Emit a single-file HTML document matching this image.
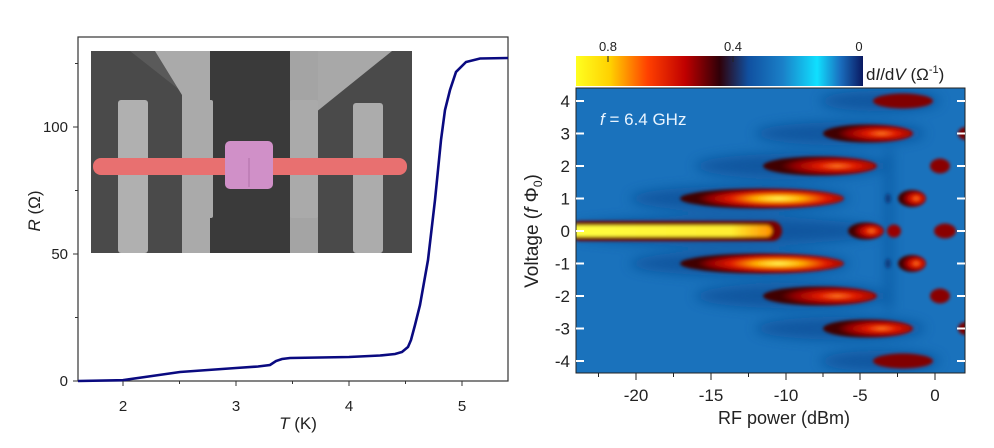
<!DOCTYPE html>
<html><head><meta charset="utf-8"><style>
body{margin:0;background:#fff;}
svg{display:block;font-family:"Liberation Sans",sans-serif;}
</style></head><body>
<svg width="994" height="448" viewBox="0 0 994 448" xmlns="http://www.w3.org/2000/svg">
<defs>
<filter id="b2" x="-50%" y="-50%" width="200%" height="200%"><feGaussianBlur stdDeviation="1.6"/></filter>
<filter id="b6" x="-50%" y="-100%" width="200%" height="300%"><feGaussianBlur stdDeviation="6"/></filter>
<linearGradient id="cb" x1="0" x2="1">
<stop offset="0" stop-color="#ffff20"/><stop offset="0.12" stop-color="#ffd000"/><stop offset="0.25" stop-color="#ff4000"/><stop offset="0.38" stop-color="#c00000"/><stop offset="0.5" stop-color="#300008"/><stop offset="0.6" stop-color="#1050a0"/><stop offset="0.72" stop-color="#1a80c8"/><stop offset="0.84" stop-color="#10e0ff"/><stop offset="0.92" stop-color="#1a70c0"/><stop offset="1" stop-color="#0a1860"/>
</linearGradient>
<radialGradient id="hot" cx="0.6" cy="0.5" r="0.5">
<stop offset="0" stop-color="#ffff60"/><stop offset="0.3" stop-color="#ffb000"/><stop offset="0.6" stop-color="#e01800"/><stop offset="0.85" stop-color="#900000"/><stop offset="1" stop-color="#400000"/>
</radialGradient>
<radialGradient id="warm" cx="0.65" cy="0.5" r="0.5">
<stop offset="0" stop-color="#ff8020"/><stop offset="0.35" stop-color="#e01800"/><stop offset="0.75" stop-color="#900000"/><stop offset="1" stop-color="#400000"/>
</radialGradient>
<linearGradient id="zero" x1="0" x2="1">
<stop offset="0" stop-color="#ffff40"/><stop offset="0.8" stop-color="#ffee30"/><stop offset="1" stop-color="#ff9000"/>
</linearGradient>
<clipPath id="hm"><rect x="576" y="88" width="389" height="285"/></clipPath>
</defs>

<rect x="78" y="37" width="430" height="344" fill="#fff" stroke="#333" stroke-width="1.2"/>
<g>
<rect x="91" y="51" width="321" height="202" fill="#4a4a4a"/>
<polygon points="130,51 222,51 222,253 205,253 205,110" fill="#5a5a5a"/>
<polygon points="155,51 222,51 222,253 182,253 182,95" fill="#aaa"/>
<polygon points="300,51 392,51 300,125" fill="#a8a8a8"/>
<rect x="288" y="51" width="30" height="202" fill="#a4a4a4"/>
<rect x="210" y="51" width="80" height="202" fill="#3a3a3a"/>
<rect x="118" y="100" width="30" height="153" rx="3" fill="#b0b0b0"/>
<rect x="353" y="103" width="30" height="150" rx="3" fill="#acacac"/>
<rect x="185" y="100" width="28" height="118" rx="2" fill="#aaa"/>
<rect x="290" y="100" width="28" height="118" rx="2" fill="#aaa"/>
<rect x="93" y="158" width="314" height="17" rx="8" fill="#e87070"/>
<rect x="225" y="141" width="48" height="48" rx="5" fill="#d090c8"/>
<line x1="249" y1="158" x2="249" y2="187" stroke="#b070a8" stroke-width="1"/>
</g>
<path d="M78,381 L123,380.2 L152,376 L180,372 L208,370 L236,368 L258,366.5 L270,365 L276,361 L282,359 L290,358 L320,357.5 L349,357 L380,355.5 L395,354 L402,352 L408,347 L411,340 L415,325 L420,305 L428,260 L435,200 L441,140 L445,110 L450,90 L456,72 L466,62 L480,58.5 L508,58" fill="none" stroke="#0a0a80" stroke-width="2.6"/>
<g stroke="#333" stroke-width="1">
<line x1="73" y1="381" x2="78" y2="381"/><line x1="73" y1="254" x2="78" y2="254"/><line x1="73" y1="127" x2="78" y2="127"/>
<line x1="75" y1="317.5" x2="78" y2="317.5"/><line x1="75" y1="190.5" x2="78" y2="190.5"/><line x1="75" y1="63.5" x2="78" y2="63.5"/>
<line x1="123" y1="381" x2="123" y2="386"/><line x1="236" y1="381" x2="236" y2="386"/><line x1="349" y1="381" x2="349" y2="386"/><line x1="462" y1="381" x2="462" y2="386"/>
<line x1="179.5" y1="381" x2="179.5" y2="384"/><line x1="292.5" y1="381" x2="292.5" y2="384"/><line x1="405.5" y1="381" x2="405.5" y2="384"/>
</g>
<g font-size="15" fill="#222" text-anchor="end">
<text x="68" y="386">0</text><text x="68" y="259">50</text><text x="68" y="132">100</text>
</g>
<g font-size="15" fill="#222" text-anchor="middle">
<text x="123" y="411">2</text><text x="236" y="411">3</text><text x="349" y="411">4</text><text x="462" y="411">5</text>
<text x="298" y="429" font-size="17"><tspan font-style="italic">T</tspan> (K)</text>
</g>
<text transform="translate(40,211) rotate(-90)" font-size="17" fill="#222" text-anchor="middle"><tspan font-style="italic">R</tspan> (Ω)</text>

<rect x="576" y="56" width="287" height="30" fill="url(#cb)"/>
<g font-size="13" fill="#222" text-anchor="middle">
<text x="608" y="51">0.8</text><text x="733" y="51">0.4</text><text x="859" y="51">0</text>
</g>
<line x1="608" y1="56" x2="608" y2="62" stroke="#222"/><line x1="733" y1="56" x2="733" y2="62" stroke="#222"/>
<text x="866" y="80" font-size="17" fill="#222">d<tspan font-style="italic">I</tspan>/d<tspan font-style="italic">V</tspan> (Ω<tspan font-size="11" dy="-7">-1</tspan><tspan dy="7">)</tspan></text>

<rect x="576" y="88" width="389" height="285" fill="#1a72bc"/>
<g clip-path="url(#hm)">
<g filter="url(#b6)" fill="#0f4f98" opacity="0.8">
<ellipse cx="720" cy="231" rx="160" ry="14"/>
<ellipse cx="740" cy="198.5" rx="110" ry="12"/><ellipse cx="740" cy="263.5" rx="110" ry="12"/>
<ellipse cx="790" cy="166" rx="95" ry="12"/><ellipse cx="790" cy="296" rx="95" ry="12"/>
<ellipse cx="840" cy="133.5" rx="85" ry="11"/><ellipse cx="840" cy="328.5" rx="85" ry="11"/>
<ellipse cx="880" cy="101" rx="60" ry="10"/><ellipse cx="880" cy="361" rx="60" ry="10"/>
<rect x="886" y="150" width="6" height="160"/>
</g>
<g filter="url(#b2)">
<rect x="570" y="221" width="212" height="20" rx="10" fill="#7a0000"/>
<rect x="570" y="225.5" width="202" height="11" rx="5.5" fill="url(#zero)"/>
<ellipse cx="866" cy="231" rx="18" ry="8.5" fill="url(#warm)"/>
<ellipse cx="894" cy="231" rx="7" ry="6.5" fill="#9a0000"/>
<ellipse cx="945" cy="231" rx="11" ry="7.5" fill="#8a0000"/>
<ellipse cx="762" cy="198.5" rx="82" ry="10" fill="url(#hot)"/>
<ellipse cx="762" cy="263.5" rx="82" ry="10" fill="url(#hot)"/>
<ellipse cx="912" cy="198.5" rx="14" ry="8.5" fill="url(#warm)"/>
<ellipse cx="912" cy="263.5" rx="14" ry="8.5" fill="url(#warm)"/>
<ellipse cx="888" cy="198.5" rx="3" ry="5" fill="#0c3e80"/><ellipse cx="888" cy="263.5" rx="3" ry="5" fill="#0c3e80"/>
<ellipse cx="820" cy="166" rx="57" ry="9.5" fill="url(#warm)"/>
<ellipse cx="820" cy="296" rx="57" ry="9.5" fill="url(#warm)"/>
<ellipse cx="940" cy="166" rx="10" ry="7.5" fill="#8a0000"/>
<ellipse cx="940" cy="296" rx="10" ry="7.5" fill="#8a0000"/>
<ellipse cx="868" cy="133.5" rx="45" ry="9" fill="url(#warm)"/>
<ellipse cx="868" cy="328.5" rx="45" ry="9" fill="url(#warm)"/>
<ellipse cx="966" cy="133.5" rx="8" ry="6.5" fill="#7a0000"/>
<ellipse cx="966" cy="328.5" rx="8" ry="6.5" fill="#7a0000"/>
<ellipse cx="903" cy="101" rx="30" ry="7.5" fill="#800000"/>
<ellipse cx="903" cy="361" rx="30" ry="7.5" fill="#800000"/>
</g>
</g>
<rect x="576" y="88" width="389" height="285" fill="none" stroke="#222" stroke-width="1"/>
<text x="600" y="125" font-size="17" fill="#e8f4ff"><tspan font-style="italic">f</tspan> = 6.4 GHz</text>
<g stroke="#fff" stroke-width="2">
<line x1="576" y1="101" x2="584" y2="101"/><line x1="576" y1="133.5" x2="584" y2="133.5"/><line x1="576" y1="166" x2="584" y2="166"/><line x1="576" y1="198.5" x2="584" y2="198.5"/><line x1="576" y1="231" x2="584" y2="231"/><line x1="576" y1="263.5" x2="584" y2="263.5"/><line x1="576" y1="296" x2="584" y2="296"/><line x1="576" y1="328.5" x2="584" y2="328.5"/><line x1="576" y1="361" x2="584" y2="361"/>
<line x1="957" y1="101" x2="965" y2="101"/><line x1="957" y1="133.5" x2="965" y2="133.5"/><line x1="957" y1="166" x2="965" y2="166"/><line x1="957" y1="198.5" x2="965" y2="198.5"/><line x1="957" y1="231" x2="965" y2="231"/><line x1="957" y1="263.5" x2="965" y2="263.5"/><line x1="957" y1="296" x2="965" y2="296"/><line x1="957" y1="328.5" x2="965" y2="328.5"/><line x1="957" y1="361" x2="965" y2="361"/>
</g>
<g stroke="#222" stroke-width="1">
<line x1="636" y1="373" x2="636" y2="380"/><line x1="711" y1="373" x2="711" y2="380"/><line x1="786" y1="373" x2="786" y2="380"/><line x1="860" y1="373" x2="860" y2="380"/><line x1="935" y1="373" x2="935" y2="380"/>
<line x1="598.5" y1="373" x2="598.5" y2="377"/><line x1="673.5" y1="373" x2="673.5" y2="377"/><line x1="748.5" y1="373" x2="748.5" y2="377"/><line x1="823" y1="373" x2="823" y2="377"/><line x1="897.5" y1="373" x2="897.5" y2="377"/>
</g>
<g font-size="17" fill="#222" text-anchor="end">
<text x="570" y="107">4</text><text x="570" y="139.5">3</text><text x="570" y="172">2</text><text x="570" y="204.5">1</text><text x="570" y="237">0</text><text x="570" y="269.5">-1</text><text x="570" y="302">-2</text><text x="570" y="334.5">-3</text><text x="570" y="367">-4</text>
</g>
<g font-size="17" fill="#222" text-anchor="middle">
<text x="636" y="401">-20</text><text x="711" y="401">-15</text><text x="786" y="401">-10</text><text x="860" y="401">-5</text><text x="935" y="401">0</text>
<text x="784" y="424" font-size="18">RF power (dBm)</text>
</g>
<text transform="translate(538,231) rotate(-90)" font-size="19" fill="#222" text-anchor="middle">Voltage (<tspan font-style="italic">f</tspan> Φ<tspan font-size="12" dy="4">0</tspan><tspan dy="-4">)</tspan></text>
</svg>
</body></html>
